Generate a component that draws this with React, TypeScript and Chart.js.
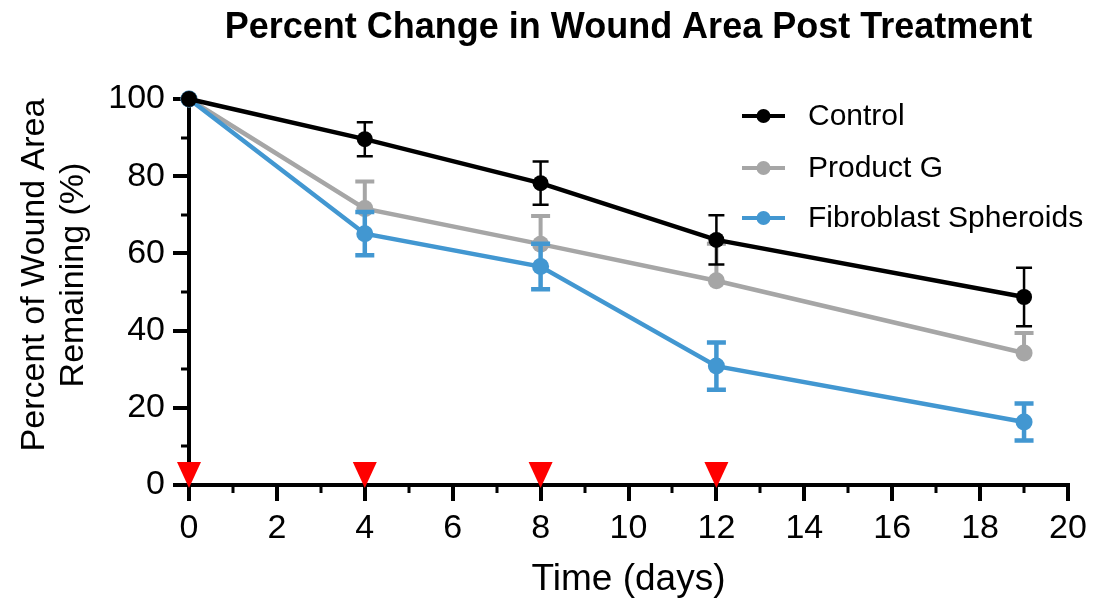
import React, { useEffect, useRef } from "react";
import { Chart, registerables } from "chart.js";

Chart.register(...registerables);

const chartTitle = "Percent Change in Wound Area Post Treatment";
const xAxisTitle = "Time (days)";
const yAxisTitle = ["Percent of Wound Area", "Remaining (%)"];

const days = [0, 4, 8, 12, 19];
const seriesLabels = ["Control", "Product G", "Fibroblast Spheroids"];
const controlMean = [100, 89.6, 78.2, 63.5, 48.7];
const controlErr = [0, 4.4, 5.6, 6.4, 7.6];
const productGMean = [100, 71.6, 62.4, 52.9, 34.2];
const productGErr = [0, 7.0, 7.3, 9.6, 5.2];
const spheroidMean = [100, 65.1, 56.6, 30.8, 16.3];
const spheroidErr = [0, 5.6, 5.9, 6.1, 4.8];
const treatmentDays = [0, 4, 8, 12];

const xMin = 0;
const xMax = 20;
const xStep = 2;
const yMin = 0;
const yMax = 100;
const yStep = 20;

const FONT = "'Liberation Sans', Arial, Helvetica, sans-serif";

const seriesMeans = [controlMean, productGMean, spheroidMean];
const seriesErrs = [controlErr, productGErr, spheroidErr];
const seriesStyle = [
  { color: "#000000", radius: 8, errWidth: 2.5, capW: 16, both: true, order: 0 },
  { color: "#a6a6a6", radius: 8.5, errWidth: 4, capW: 19, both: false, order: 2 },
  { color: "#4297d1", radius: 8.5, errWidth: 4.5, capW: 19, both: true, order: 1 },
];

const errorBarPlugin = {
  id: "errorBars",
  beforeDatasetDraw(chart: any, args: any) {
    const i = args.index;
    const st = seriesStyle[i];
    const xs = chart.scales.x;
    const ys = chart.scales.y;
    const ctx = chart.ctx;
    ctx.save();
    ctx.strokeStyle = st.color;
    ctx.lineWidth = st.errWidth;
    days.forEach((d, k) => {
      const e = seriesErrs[i][k];
      if (!e) return;
      const m = seriesMeans[i][k];
      const px = xs.getPixelForValue(d);
      const pTop = ys.getPixelForValue(m + e);
      const pMid = ys.getPixelForValue(m);
      const pBot = st.both ? ys.getPixelForValue(m - e) : pMid;
      ctx.beginPath();
      ctx.moveTo(px, pTop);
      ctx.lineTo(px, pBot);
      ctx.moveTo(px - st.capW / 2, pTop);
      ctx.lineTo(px + st.capW / 2, pTop);
      if (st.both) {
        ctx.moveTo(px - st.capW / 2, pBot);
        ctx.lineTo(px + st.capW / 2, pBot);
      }
      ctx.stroke();
    });
    ctx.restore();
  },
};

const decorPlugin = {
  id: "decor",
  afterDatasetsDraw(chart: any) {
    const ctx = chart.ctx;
    const xs = chart.scales.x;
    const ys = chart.scales.y;
    const area = chart.chartArea;
    ctx.save();
    // minor ticks
    ctx.strokeStyle = "#000";
    ctx.lineWidth = 3;
    ctx.beginPath();
    for (let v = xMin + xStep / 2; v < xMax; v += xStep) {
      const px = Math.round(xs.getPixelForValue(v));
      ctx.moveTo(px, area.bottom);
      ctx.lineTo(px, area.bottom + 8);
    }
    for (let v = yMin + yStep / 2; v < yMax; v += yStep) {
      const py = Math.round(ys.getPixelForValue(v));
      ctx.moveTo(area.left, py);
      ctx.lineTo(area.left - 8, py);
    }
    ctx.stroke();
    // treatment triangles
    ctx.fillStyle = "#ff0000";
    treatmentDays.forEach((d) => {
      const px = xs.getPixelForValue(d);
      const py = ys.getPixelForValue(0);
      ctx.beginPath();
      ctx.moveTo(px - 12, py - 23);
      ctx.lineTo(px + 12, py - 23);
      ctx.lineTo(px, py + 3);
      ctx.closePath();
      ctx.fill();
    });
    ctx.restore();
  },
  afterDraw(chart: any) {
    const ctx = chart.ctx;
    const area = chart.chartArea;
    ctx.save();
    // title
    ctx.fillStyle = "#000";
    ctx.font = `bold 36px ${FONT}`;
    ctx.textAlign = "center";
    ctx.textBaseline = "middle";
    ctx.fillText(chartTitle, (area.left + area.right) / 2, 28);
    // y title
    ctx.font = `34px ${FONT}`;
    ctx.save();
    ctx.translate(35, 275);
    ctx.rotate(-Math.PI / 2);
    ctx.fillText(yAxisTitle[0], 0, 0);
    ctx.restore();
    ctx.save();
    ctx.translate(74, 275);
    ctx.rotate(-Math.PI / 2);
    ctx.fillText(yAxisTitle[1], 0, 0);
    ctx.restore();
    // legend
    const legendY = [116, 168, 218];
    ctx.font = `30px ${FONT}`;
    ctx.textAlign = "left";
    seriesLabels.forEach((lab, i) => {
      const st = seriesStyle[i];
      const y = legendY[i];
      ctx.strokeStyle = st.color;
      ctx.fillStyle = st.color;
      ctx.lineWidth = 4;
      ctx.beginPath();
      ctx.moveTo(742, y);
      ctx.lineTo(785, y);
      ctx.stroke();
      ctx.beginPath();
      ctx.arc(763.5, y, 7, 0, Math.PI * 2);
      ctx.fill();
      ctx.fillStyle = "#000";
      ctx.fillText(lab, 808, y + 1);
    });
    ctx.restore();
  },
};

export default function App() {
  const ref = useRef<HTMLCanvasElement | null>(null);
  useEffect(() => {
    if (!ref.current) return;
    const datasets = seriesLabels.map((label, i) => ({
      label,
      data: days.map((d, k) => ({ x: d, y: seriesMeans[i][k] })),
      borderColor: seriesStyle[i].color,
      backgroundColor: seriesStyle[i].color,
      borderWidth: 4.5,
      pointRadius: seriesStyle[i].radius,
      pointHoverRadius: seriesStyle[i].radius,
      pointBorderWidth: 0,
      tension: 0,
      clip: false as any,
      order: seriesStyle[i].order,
    }));
    const chart = new Chart(ref.current, {
      type: "line",
      data: { datasets },
      options: {
        animation: false,
        responsive: false,
        events: [],
        layout: { padding: { top: 99, right: 26, left: 0, bottom: 0 } },
        plugins: { legend: { display: false }, tooltip: { enabled: false }, title: { display: false } },
        scales: {
          x: {
            type: "linear",
            min: xMin,
            max: xMax,
            ticks: { stepSize: xStep, color: "#000", font: { family: FONT, size: 34 }, padding: 7 },
            grid: { display: true, drawOnChartArea: false, drawTicks: true, tickLength: 16, tickWidth: 4, tickColor: "#000", color: "#000", lineWidth: 4 },
            border: { display: true, color: "#000", width: 4 },
            title: { display: true, text: xAxisTitle, color: "#000", font: { family: FONT, size: 37 }, padding: { top: 0, bottom: 1 } },
            afterFit: (s: any) => { s.height = 118; },
          },
          y: {
            type: "linear",
            min: yMin,
            max: yMax,
            ticks: { stepSize: yStep, color: "#000", font: { family: FONT, size: 34 }, padding: 8 },
            grid: { display: true, drawOnChartArea: false, drawTicks: true, tickLength: 16, tickWidth: 4, tickColor: "#000", color: "#000", lineWidth: 4 },
            border: { display: true, color: "#000", width: 4 },
            afterFit: (s: any) => { s.width = 189; },
          },
        },
      },
      plugins: [errorBarPlugin, decorPlugin],
    });
    return () => chart.destroy();
  }, []);
  return (
    <div style={{ position: "absolute", left: 0, top: 0, width: 1094, height: 603, background: "#fff" }}>
      <canvas ref={ref} width={1094} height={603} style={{ display: "block" }} />
    </div>
  );
}
